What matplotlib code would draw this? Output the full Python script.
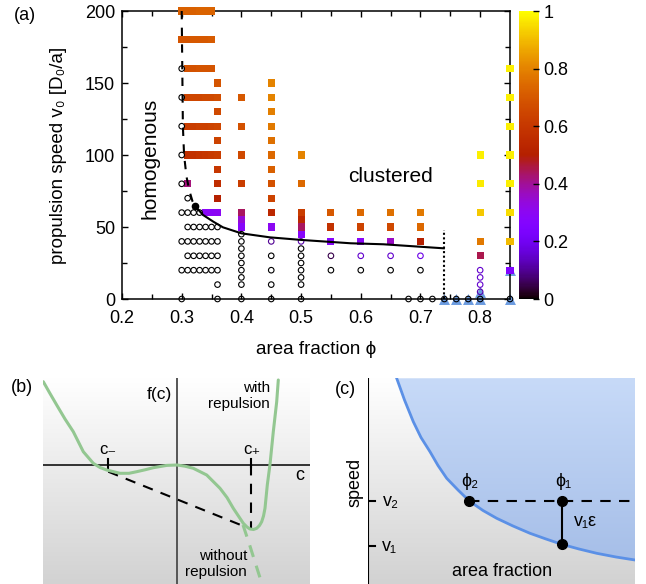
import numpy as np
import matplotlib
matplotlib.use('Agg')
import matplotlib.pyplot as plt
from matplotlib.patches import Polygon
from matplotlib.colors import LinearSegmentedColormap, Normalize
from matplotlib.cm import ScalarMappable

plt.rcParams['font.family'] = ['Liberation Sans', 'DejaVu Sans']

W, H = 646, 584

# ---------------- panel (a) data ----------------
# filled squares (clustered runs): area fraction, speed, colour value
sq_phi = [0.30, 0.31, 0.32, 0.33, 0.34, 0.35,                     # v=200
          0.30, 0.31, 0.32, 0.33, 0.34, 0.35,                     # v=180
          0.31, 0.32, 0.33, 0.34, 0.35, 0.85,                     # v=160
          0.36, 0.45,                                             # v=150
          0.31, 0.32, 0.33, 0.34, 0.35, 0.36, 0.40, 0.45, 0.85,   # v=140
          0.36, 0.45,                                             # v=130
          0.31, 0.32, 0.33, 0.34, 0.35, 0.36, 0.40, 0.45, 0.85,   # v=120
          0.36, 0.45,                                             # v=110
          0.31, 0.32, 0.33, 0.34, 0.35, 0.36, 0.40, 0.45, 0.50, 0.80, 0.85,  # v=100
          0.36, 0.45,                                             # v=90
          0.31, 0.36, 0.40, 0.45, 0.50, 0.80, 0.85,               # v=80
          0.36, 0.45,                                             # v=70
          0.34, 0.35, 0.36, 0.40, 0.45, 0.50, 0.55, 0.60, 0.65, 0.70, 0.80, 0.85,  # v=60
          0.40, 0.50,                                             # v=55
          0.40, 0.45, 0.50, 0.55, 0.60, 0.65, 0.70,               # v=50
          0.50,                                                   # v=45
          0.55, 0.60, 0.65, 0.70, 0.80, 0.85,                     # v=40
          0.80,                                                   # v=30
          0.85]                                                   # v=20
sq_v = [200]*6 + [180]*6 + [160]*6 + [150]*2 + [140]*9 + [130]*2 + [120]*9 + \
       [110]*2 + [100]*11 + [90]*2 + [80]*7 + [70]*2 + [60]*12 + [55]*2 + \
       [50]*7 + [45] + [40]*6 + [30] + [20]
sq_val = [0.72, 0.72, 0.72, 0.73, 0.73, 0.73,
          0.69, 0.69, 0.70, 0.70, 0.70, 0.71,
          0.68, 0.68, 0.69, 0.69, 0.69, 0.98,
          0.69, 0.80,
          0.64, 0.65, 0.65, 0.66, 0.66, 0.67, 0.70, 0.80, 0.98,
          0.66, 0.79,
          0.62, 0.62, 0.63, 0.63, 0.64, 0.65, 0.68, 0.78, 0.98,
          0.64, 0.76,
          0.57, 0.58, 0.59, 0.60, 0.61, 0.62, 0.66, 0.74, 0.80, 0.98, 0.98,
          0.60, 0.72,
          0.42, 0.56, 0.62, 0.68, 0.74, 0.97, 0.98,
          0.50, 0.64,
          0.29, 0.29, 0.30, 0.44, 0.54, 0.62, 0.70, 0.74, 0.76, 0.78, 0.92, 0.95,
          0.34, 0.54,
          0.28, 0.30, 0.44, 0.58, 0.64, 0.66, 0.74,
          0.28,
          0.28, 0.29, 0.36, 0.50, 0.78, 0.90,
          0.45,
          0.25]

# open circles (homogeneous runs)
ci_phi = [0.30, 0.36, 0.40, 0.45, 0.50, 0.68, 0.70, 0.72, 0.74, 0.76, 0.78, 0.80, 0.85,  # v=0
          0.80,                                                   # v=5
          0.36, 0.40, 0.45, 0.50, 0.80,                           # v=10
          0.40, 0.50, 0.80,                                       # v=15
          0.30, 0.31, 0.32, 0.33, 0.34, 0.35, 0.36, 0.40, 0.45, 0.50,
          0.55, 0.60, 0.65, 0.70, 0.80,                           # v=20
          0.40, 0.50,                                             # v=25
          0.31, 0.32, 0.33, 0.34, 0.35, 0.36, 0.40, 0.45, 0.50,
          0.55, 0.60, 0.65, 0.70,                                 # v=30
          0.40, 0.50,                                             # v=35
          0.30, 0.31, 0.32, 0.33, 0.34, 0.35, 0.36, 0.40, 0.45, 0.50,  # v=40
          0.40,                                                   # v=45
          0.31, 0.32, 0.33, 0.34, 0.35, 0.36,                     # v=50
          0.30, 0.31, 0.32, 0.33,                                 # v=60
          0.31, 0.30, 0.30, 0.30, 0.30, 0.30]                     # v=70,80,100..160
ci_v = [0]*13 + [5] + [10]*5 + [15]*3 + [20]*15 + [25]*2 + [30]*13 + [35]*2 + \
       [40]*10 + [45] + [50]*6 + [60]*4 + [70, 80, 100, 120, 140, 160]
ci_val = [0.0]*13 + [0.12] + [0, 0, 0, 0, 0.15] + [0, 0, 0.15] + \
         [0.0]*14 + [0.15] + [0, 0] + \
         [0.0]*9 + [0.05, 0.15, 0.15, 0.18] + [0, 0] + \
         [0.0]*8 + [0.1, 0.12] + [0] + [0.0]*6 + [0.0]*4 + [0.0]*6

# blue triangles
tr_phi = [0.74, 0.76, 0.78, 0.80, 0.80, 0.85, 0.85]
tr_v = [0, 0, 0, 0, 5, 0, 20]

# phase boundary lines
dash_phi = [0.300, 0.301, 0.302, 0.304, 0.308, 0.313, 0.318, 0.322]
dash_v = [200, 160, 120, 100, 85, 75, 68, 64.6]
solid_phi = [0.322, 0.336, 0.353, 0.369, 0.400, 0.448, 0.501, 0.583, 0.638, 0.739]
solid_v = [64.6, 58.3, 53.7, 49.8, 45.6, 42.8, 41.0, 38.7, 38.0, 35.2]
dot_phi = [0.739, 0.739]
dot_v = [0, 48]

# ---------------- panel (b) sketch ----------------
fb_c = [-1.337, -1.270, -1.203, -1.120, -1.037, -0.937, -0.837, -0.770, -0.703,
        -0.57, -0.48, -0.403, -0.32, -0.237, -0.103, 0.0, 0.08, 0.163, 0.297, 0.43,
        0.50, 0.563, 0.663, 0.70, 0.73, 0.765, 0.797, 0.825, 0.847, 0.865, 0.88,
        0.903, 0.93, 0.963, 0.997, 1.013]
fb_f = [0.833, 0.715, 0.60, 0.46, 0.333, 0.133, 0.017, -0.025, -0.05,
        -0.083, -0.083, -0.067, -0.048, -0.027, -0.004, 0.0, -0.012, -0.033, -0.10,
        -0.233, -0.325, -0.433, -0.583, -0.62, -0.64, -0.645, -0.633, -0.605, -0.567,
        -0.51, -0.433, -0.20, 0.007, 0.333, 0.633, 0.85]
fb_nr_c = [0.66, 0.72, 0.78, 0.85]
fb_nr_f = [-0.60, -0.78, -0.97, -1.19]
tang_c = [-0.687, 0.68]
tang_f = [-0.067, -0.617]
c_minus, c_plus = -0.687, 0.737

# ---------------- panel (c) sketch ----------------
bc_u = [0.287, 0.365, 0.453, 0.53, 0.62, 0.70, 0.787, 0.90, 1.013, 1.15, 1.287,
        1.45, 1.62, 1.78, 1.937, 2.11, 2.287, 2.48, 2.67]
bc_w = [2.057, 1.84, 1.623, 1.465, 1.323, 1.185, 1.057, 0.94, 0.83, 0.735, 0.657,
        0.58, 0.507, 0.45, 0.397, 0.35, 0.307, 0.27, 0.24]
phi2_u, phi1_u = 1.013, 1.937
v2_w, v1_w = 0.83, 0.397

cmap = plt.get_cmap('gnuplot')

fig = plt.figure(figsize=(W / 100, H / 100), dpi=100)

# ---- (a) ----
ax = fig.add_axes([122 / W, 1 - 299 / H, 388 / W, 288 / H])
ax.scatter(tr_phi, tr_v, marker='^', s=62, color='#6b9be0', lw=0, zorder=2, clip_on=False)
ax.scatter(sq_phi, sq_v, marker='s', s=26, c=sq_val, cmap=cmap, vmin=0, vmax=1,
           lw=0, zorder=3, clip_on=False)
ax.scatter(ci_phi, ci_v, marker='o', s=16, facecolors='none',
           edgecolors=cmap(np.array(ci_val)), linewidths=0.8, zorder=4, clip_on=False)
ax.plot(dash_phi, dash_v, color='k', lw=1.5, ls=(0, (4, 4)), zorder=5)
ax.plot(solid_phi, solid_v, color='k', lw=1.5, zorder=5)
ax.plot(dot_phi, dot_v, color='k', lw=1.5, ls=(0, (1, 1.2)), zorder=5)
ax.plot([solid_phi[0]], [solid_v[0]], 'o', color='k', ms=4.5, zorder=6)

ax.set_xlim(0.2, 0.85)
ax.set_ylim(0, 200)
ax.set_xticks([0.2, 0.3, 0.4, 0.5, 0.6, 0.7, 0.8])
ax.set_xticklabels(['0.2', '0.3', '0.4', '0.5', '0.6', '0.7', '0.8'])
ax.set_xticks(np.arange(0.25, 0.85, 0.1), minor=True)
ax.set_yticks([0, 50, 100, 150, 200])
ax.set_yticks([25, 75, 125, 175], minor=True)
ax.tick_params(which='both', direction='in', top=True, right=True, labelsize=13)
ax.tick_params(axis='x', which='both', pad=8)
ax.tick_params(axis='y', which='both', pad=5)
ax.tick_params(which='major', length=4.5, width=1)
ax.tick_params(which='minor', length=3.5, width=1)
ax.set_xlabel('area fraction ϕ', fontsize=13.5, labelpad=10)
ax.set_ylabel('propulsion speed v₀ [D₀/a]', fontsize=13.5, labelpad=13)
for s in ax.spines.values():
    s.set_linewidth(1.1)
ax.text(0.247, 98, 'homogenous', rotation=90, ha='center', va='center', fontsize=15)
ax.text(0.65, 85, 'clustered', ha='center', va='center', fontsize=15)
fig.text(25 / W, 1 - 16 / H, '(a)', ha='center', va='center', fontsize=13)

cax = fig.add_axes([519 / W, 1 - 299 / H, 20 / W, 288 / H])
cb = fig.colorbar(ScalarMappable(norm=Normalize(0, 1), cmap=cmap), cax=cax,
                  ticks=[0, 0.2, 0.4, 0.6, 0.8, 1])
cb.ax.set_yticklabels(['0', '0.2', '0.4', '0.6', '0.8', '1'])
cb.ax.tick_params(direction='in', length=4, width=1, labelsize=13, pad=3)
cb.outline.set_linewidth(0)

# ---- (b) ----
grey = LinearSegmentedColormap.from_list('g', ['#ffffff', '#d2d2d2'])
axb = fig.add_axes([43 / W, 0, 267 / W, 206 / H])
axb.imshow(np.linspace(0, 1, 256).reshape(-1, 1), extent=[-1.34, 1.33, -1.19, 0.87],
           aspect='auto', cmap=grey, origin='upper', zorder=0)
axb.set_xlim(-1.34, 1.33)
axb.set_ylim(-1.19, 0.87)
axb.axis('off')
axb.plot([-1.34, 1.33], [0, 0], color='k', lw=1.1, zorder=1)
axb.plot([0, 0], [-1.19, 0.87], color='#555555', lw=1.4, zorder=1)
axb.plot(tang_c, tang_f, color='k', lw=1.5, ls=(0, (5, 4)), zorder=2)
axb.plot([c_plus, c_plus], [0, -0.63], color='k', lw=1.5, ls=(0, (5, 4)), zorder=2)
axb.plot([c_minus, c_minus], [-0.05, 0.06], color='k', lw=1.5, zorder=2)
axb.plot([c_plus, c_plus], [-0.02, 0.06], color='k', lw=1.5, zorder=2)
axb.plot(fb_c, fb_f, color='#93c791', lw=2.2, zorder=3, solid_capstyle='round')
axb.plot(fb_nr_c, fb_nr_f, color='#93c791', lw=2.2, ls=(0, (4, 3)), zorder=3)
axb.text(c_minus, 0.15, 'c₋', ha='center', va='center', fontsize=12)
axb.text(c_plus + 0.01, 0.15, 'c₊', ha='center', va='center', fontsize=12)
axb.text(1.23, -0.10, 'c', ha='center', va='center', fontsize=13)
axb.text(-0.05, 0.70, 'f(c)', ha='right', va='center', fontsize=12.5)
axb.text(0.93, 0.69, 'with\nrepulsion', ha='right', va='center', fontsize=11,
         linespacing=1.15)
axb.text(0.70, -0.99, 'without\nrepulsion', ha='right', va='center', fontsize=11,
         linespacing=1.15)
fig.text(22 / W, 1 - 388 / H, '(b)', ha='center', va='center', fontsize=13)

# ---- (c) ----
blue = LinearSegmentedColormap.from_list('b', ['#c7daf8', '#a2bbe6'])
axc = fig.add_axes([368 / W, 0, 267 / W, 206 / H])
axc.imshow(np.linspace(0, 1, 256).reshape(-1, 1), extent=[0, 2.67, 0, 2.06],
           aspect='auto', cmap=grey, origin='upper', zorder=0)
region = Polygon(list(zip(bc_u, bc_w)) + [(2.67, 2.06)], closed=True,
                 facecolor='none', edgecolor='none', transform=axc.transData)
axc.add_patch(region)
im = axc.imshow(np.linspace(0, 1, 256).reshape(-1, 1), extent=[0, 2.67, 0, 2.06],
                aspect='auto', cmap=blue, origin='upper', zorder=1)
im.set_clip_path(region)
axc.set_xlim(0, 2.67)
axc.set_ylim(0, 2.06)
axc.axis('off')
axc.plot(bc_u, bc_w, color='#5b90e6', lw=2, zorder=2)
axc.plot([0, 0], [0, 2.06], color='k', lw=1.5, zorder=3)
axc.plot([phi2_u, 2.62], [v2_w, v2_w], color='k', lw=1.5, ls=(0, (5, 4)), zorder=3)
axc.plot([0, 0.07], [v2_w, v2_w], color='k', lw=1.5, zorder=3)
axc.plot([0, 0.07], [v1_w - 0.02, v1_w - 0.02], color='k', lw=1.5, zorder=3)
axc.plot([phi1_u, phi1_u], [v2_w, v1_w], color='k', lw=1.5, zorder=3)
axc.plot([phi2_u, phi1_u, phi1_u], [v2_w, v2_w, v1_w], 'o', color='k', ms=7, zorder=4)
axc.text(phi2_u + 0.01, 1.03, 'ϕ₂', ha='center', va='center', fontsize=13)
axc.text(phi1_u + 0.02, 1.03, 'ϕ₁', ha='center', va='center', fontsize=13)
axc.text(2.06, 0.62, 'v₁ε', ha='left', va='center', fontsize=13)
axc.text(0.23, v2_w, 'v₂', ha='center', va='center', fontsize=13)
axc.text(0.21, v1_w - 0.02, 'v₁', ha='center', va='center', fontsize=13)
axc.text(1.34, 0.13, 'area fraction', ha='center', va='center', fontsize=13)
axc.text(-0.13, 1.02, 'speed', rotation=90, ha='center', va='center', fontsize=13,
         clip_on=False)
fig.text(345 / W, 1 - 390 / H, '(c)', ha='center', va='center', fontsize=13)

fig.savefig('out.png', dpi=100)
